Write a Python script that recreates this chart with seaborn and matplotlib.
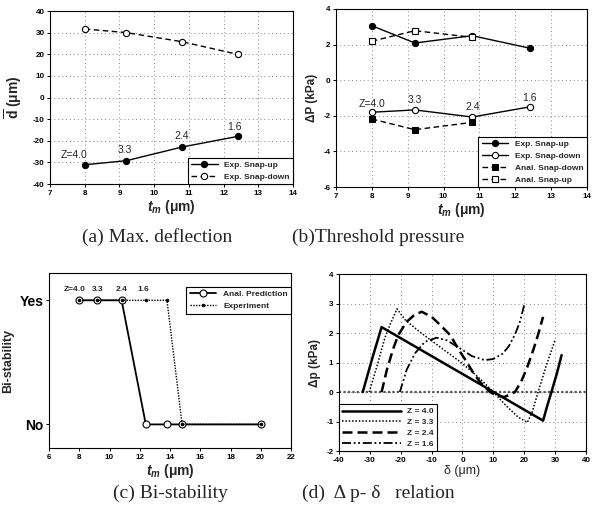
import matplotlib
matplotlib.use('Agg')
import matplotlib.pyplot as plt
import seaborn as sns

# ---------------- data ----------------
# membrane thickness (um) and Z labels
tm = [8, 9.2, 10.8, 12.4]
z_labels = ['Z=4.0', '3.3', '2.4', '1.6']

# (a) max deflection (um)
d_snap_up = [-31.1, -29.2, -22.9, -18.0]
d_snap_down = [31.7, 30.0, 25.8, 20.0]

# (b) threshold pressure (kPa)
p_exp_up = [3.06, 2.09, 2.50, 1.80]
p_exp_down = [-1.80, -1.67, -2.07, -1.50]
tm_anal = [8, 9.2, 10.8]
p_anal_down = [-2.18, -2.78, -2.37]
p_anal_up = [2.19, 2.78, 2.41]

# (c) bi-stability
tm_c = [8, 9.2, 10.8, 12.4, 13.8, 14.8, 20]
bistable_anal = ['Yes', 'Yes', 'Yes', 'No', 'No', 'No', 'No']
bistable_exp = ['Yes', 'Yes', 'Yes', 'Yes', 'Yes', 'No', 'No']
yes_no = ['No', 'Yes']

# (d) dp - delta curves
delta_40 = [-32.3, -29.2, -26.2, 26.1, 27.5, 28.8, 30.5, 32.1]
dp_40 = [0.0, 1.15, 2.2, -0.97, -0.45, 0.0, 0.6, 1.25]

delta_33 = [-30.2, -27.5, -25.1, -23.0, -21.2, -18.6, -14.0, -9.5, -5.0, -0.8, 3.0,
            6.7, 10.0, 14.0, 18.0, 21.0, 22.5, 24.5, 27.0, 29.9]
dp_33 = [0.0, 0.95, 1.85, 2.4, 2.82, 2.45, 2.05, 1.7, 1.35, 1.03, 0.7,
         0.35, 0.0, -0.45, -0.85, -1.03, -0.7, 0.0, 0.85, 1.74]

delta_24 = [-26.2, -24.5, -22.5, -20.8, -18.1, -15.5, -13.2, -10.0, -7.0, -4.0, -1.0,
            1.3, 3.5, 5.6, 8.9, 11.0, 13.5, 15.5, 17.0, 19.0, 21.0, 23.0, 24.5, 26.1]
dp_24 = [0.0, 0.75, 1.45, 1.93, 2.38, 2.62, 2.72, 2.55, 2.25, 1.93, 1.4,
         1.03, 0.65, 0.35, 0.0, -0.12, -0.17, -0.08, 0.0, 0.35, 0.85, 1.45, 1.95, 2.55]

delta_16 = [-20.3, -18.1, -15.4, -12.2, -8.4, -5.0, -0.8, 3.0, 7.2, 10.0, 13.0,
            15.0, 17.0, 18.5, 20.0]
dp_16 = [0.0, 0.75, 1.31, 1.7, 1.84, 1.75, 1.48, 1.22, 1.08, 1.12, 1.3,
         1.55, 1.95, 2.35, 2.95]

z_curve_labels = ['Z = 4.0', 'Z = 3.3', 'Z = 2.4', 'Z = 1.6']

# ---------------- style ----------------
sns.set_theme(style='ticks')
plt.rcParams['font.family'] = ['Liberation Sans', 'DejaVu Sans']
plt.rcParams['axes.unicode_minus'] = False
plt.rcParams['mathtext.fontset'] = 'custom'
plt.rcParams['mathtext.rm'] = 'Liberation Sans:bold'
plt.rcParams['mathtext.it'] = 'Liberation Sans:bold:italic'
plt.rcParams['axes.linewidth'] = 0.8
plt.rcParams['xtick.major.size'] = 2
plt.rcParams['ytick.major.size'] = 2
plt.rcParams['xtick.major.width'] = 0.7
plt.rcParams['ytick.major.width'] = 0.7

fig = plt.figure(figsize=(6.02, 5.05), dpi=100)
ax_a = fig.add_axes([0.0831, 0.6356, 0.4037, 0.3426])
ax_b = fig.add_axes([0.5581, 0.6297, 0.4169, 0.3525])
ax_c = fig.add_axes([0.0814, 0.1129, 0.4020, 0.3465])
ax_d = fig.add_axes([0.5631, 0.1069, 0.4103, 0.3505])

grid_kw = dict(color='#888888', linestyle=(0, (1, 3)), linewidth=0.7)


def style_axes(ax):
    for s in ax.spines.values():
        s.set_color('black')
        s.set_linewidth(0.8)
    ax.tick_params(axis='both', labelsize=5.8, pad=2, colors='black')
    for lab in ax.get_xticklabels() + ax.get_yticklabels():
        lab.set_fontweight('bold')


def make_legend(ax, **kw):
    leg = ax.legend(prop=dict(size=6, weight='bold'), fancybox=False, framealpha=1,
                    edgecolor='black', borderaxespad=0, **kw)
    leg.get_frame().set_linewidth(0.8)
    return leg


# ---------------- (a) ----------------
sns.lineplot(x=tm, y=d_snap_up, ax=ax_a, color='black', lw=1, marker='o', ms=4.5,
             mfc='black', mec='black', label='Exp. Snap-up', sort=False, estimator=None)
sns.lineplot(x=tm, y=d_snap_down, ax=ax_a, color='black', lw=1, ls=(0, (4, 2.5)), marker='o',
             ms=4.5, mfc='white', mec='black', mew=0.8, label='Exp. Snap-down',
             sort=False, estimator=None)
ax_a.set_xlim(7, 14)
ax_a.set_ylim(-40, 40)
ax_a.set_xticks(range(7, 15))
ax_a.set_yticks(range(-40, 41, 10))
ax_a.grid(True, **grid_kw)
ax_a.set_axisbelow(True)
a_text_pos = [(7.7, -26.5), (9.15, -24.2), (10.8, -18.0), (12.3, -13.7)]
for lab, (x, y) in zip(z_labels, a_text_pos):
    ax_a.text(x, y, lab, fontsize=7.5, ha='center', va='center')
ax_a.set_xlabel('$t_m$ (μm)', fontsize=10, fontweight='bold', labelpad=1)
ax_a.set_ylabel('$\\overline{\\mathrm{d}}$ (μm)', fontsize=10, fontweight='bold', labelpad=6)
make_legend(ax_a, loc='lower right', handlelength=3.2)
style_axes(ax_a)

# ---------------- (b) ----------------
sns.lineplot(x=tm, y=p_exp_up, ax=ax_b, color='black', lw=1, marker='o', ms=4.5,
             mfc='black', mec='black', label='Exp. Snap-up', sort=False, estimator=None)
sns.lineplot(x=tm, y=p_exp_down, ax=ax_b, color='black', lw=1, marker='o', ms=4.5,
             mfc='white', mec='black', mew=0.8, label='Exp. Snap-down', sort=False, estimator=None)
sns.lineplot(x=tm_anal, y=p_anal_down, ax=ax_b, color='black', lw=1, ls=(0, (4, 2.5)),
             marker='s', ms=4, mfc='black', mec='black', label='Anal. Snap-down',
             sort=False, estimator=None)
sns.lineplot(x=tm_anal, y=p_anal_up, ax=ax_b, color='black', lw=1, ls=(0, (4, 2.5)),
             marker='s', ms=4, mfc='white', mec='black', mew=0.8, label='Anal. Snap-up',
             sort=False, estimator=None)
ax_b.set_xlim(7, 14)
ax_b.set_ylim(-6, 4)
ax_b.set_xticks(range(7, 15))
ax_b.set_yticks(range(-6, 5, 2))
ax_b.grid(True, **grid_kw)
ax_b.set_axisbelow(True)
b_text_pos = [(8.0, -1.35), (9.2, -1.1), (10.8, -1.5), (12.4, -1.0)]
for lab, (x, y) in zip(z_labels, b_text_pos):
    ax_b.text(x, y, lab, fontsize=7.5, ha='center', va='center')
ax_b.set_xlabel('$t_m$ (μm)', fontsize=10, fontweight='bold', labelpad=1)
ax_b.set_ylabel('ΔP (kPa)', fontsize=8.5, fontweight='bold', labelpad=4)
make_legend(ax_b, loc='lower right', handlelength=3.2)
style_axes(ax_b)

# ---------------- (c) ----------------
yn_map = {k: i for i, k in enumerate(yes_no)}
sns.lineplot(x=tm_c, y=[yn_map[v] for v in bistable_anal], ax=ax_c, color='black', lw=1.3,
             marker='o', ms=5, mfc='white', mec='black', mew=0.8, label='Anal. Prediction',
             sort=False, estimator=None)
sns.lineplot(x=tm_c, y=[yn_map[v] for v in bistable_exp], ax=ax_c, color='black', lw=1,
             ls=(0, (1, 1)), marker='o', ms=1.8, mfc='black', mec='black',
             label='Experiment', sort=False, estimator=None)
ax_c.set_xlim(6, 22)
ax_c.set_ylim(-0.19, 1.22)
ax_c.set_xticks(range(6, 23, 2))
ax_c.set_yticks([0, 1])
ax_c.set_yticklabels(yes_no)
c_text_x = [7.7, 9.2, 10.8, 12.25]
for lab, x in zip(z_labels, c_text_x):
    ax_c.text(x, 1.09, lab, fontsize=6, fontweight='bold', ha='center', va='center')
ax_c.set_xlabel('$t_m$ (μm)', fontsize=10, fontweight='bold', labelpad=1)
ax_c.set_ylabel('Bi-stability', fontsize=9, fontweight='bold', labelpad=4)
make_legend(ax_c, loc='upper right', bbox_to_anchor=(1, 0.92), handlelength=3.2)
style_axes(ax_c)
ax_c.tick_params(axis='y', labelsize=10)
for lab in ax_c.get_yticklabels():
    lab.set_fontweight('bold')

# ---------------- (d) ----------------
ax_d.axhline(0, color='#555555', lw=1.6, ls=(0, (1, 1)), zorder=1)
sns.lineplot(x=delta_40, y=dp_40, ax=ax_d, color='black', lw=1.8, label=z_curve_labels[0],
             sort=False, estimator=None)
sns.lineplot(x=delta_33, y=dp_33, ax=ax_d, color='black', lw=1.1, ls=(0, (1, 1.2)),
             label=z_curve_labels[1], sort=False, estimator=None)
sns.lineplot(x=delta_24, y=dp_24, ax=ax_d, color='black', lw=1.8, ls=(0, (4, 2)),
             label=z_curve_labels[2], sort=False, estimator=None)
sns.lineplot(x=delta_16, y=dp_16, ax=ax_d, color='black', lw=1.3,
             ls=(0, (5, 1.5, 1, 1.5, 1, 1.5)), label=z_curve_labels[3],
             sort=False, estimator=None)
ax_d.set_xlim(-40, 40)
ax_d.set_ylim(-2, 4)
ax_d.set_xticks(range(-40, 41, 10))
ax_d.set_yticks(range(-2, 5))
ax_d.grid(True, **grid_kw)
ax_d.set_axisbelow(True)
ax_d.set_xlabel('δ (μm)', fontsize=9, labelpad=1)
ax_d.set_ylabel('Δp (kPa)', fontsize=8.5, fontweight='bold', labelpad=4)
make_legend(ax_d, loc='lower left', handlelength=7, labelspacing=0.35)
style_axes(ax_d)

# ---------------- captions ----------------
cap_font = dict(fontsize=14, family=['Liberation Serif', 'DejaVu Serif'], ha='center', va='center')
fig.text(157 / 602, 1 - 237 / 505, '(a) Max. deflection', **cap_font)
fig.text(378 / 602, 1 - 237 / 505, '(b)Threshold pressure', **cap_font)
fig.text(170 / 602, 1 - 493 / 505, '(c) Bi-stability', **cap_font)
fig.text(378 / 602, 1 - 493 / 505, '(d)  Δ p- δ   relation', **cap_font)

fig.savefig('out.png', dpi=100)
